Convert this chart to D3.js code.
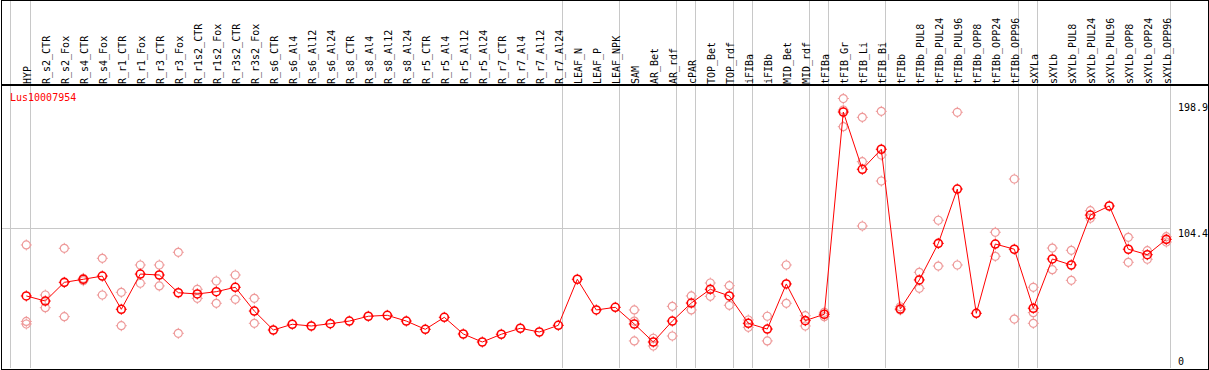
<!DOCTYPE html>
<html>
<head>
<meta charset="utf-8">
<script src="https://cdn.jsdelivr.net/npm/d3@7"></script>
</head>
<body style="margin:0">
<div id="chart"></div>
<script>
// sample names (columns)
const samples = ["HYP","R_s2_CTR","R_s2_Fox","R_s4_CTR","R_s4_Fox","R_r1_CTR","R_r1_Fox","R_r3_CTR","R_r3_Fox",
  "R_r1s2_CTR","R_r1s2_Fox","R_r3s2_CTR","R_r3s2_Fox","R_s6_CTR","R_s6_Al4","R_s6_Al12","R_s6_Al24",
  "R_s8_CTR","R_s8_Al4","R_s8_Al12","R_s8_Al24","R_r5_CTR","R_r5_Al4","R_r5_Al12","R_r5_Al24",
  "R_r7_CTR","R_r7_Al4","R_r7_Al12","R_r7_Al24","LEAF_N","LEAF_P","LEAF_NPK","SAM","AR_Bet","AR_rdf",
  "cPAR","TOP_Bet","TOP_rdf","iFIBa","iFIBb","MID_Bet","MID_rdf","tFIBa","tFIB_Gr","tFIB_Li","tFIB_Bi",
  "tFIBb","tFIBb_PUL8","tFIBb_PUL24","tFIBb_PUL96","tFIBb_OPP8","tFIBb_OPP24","tFIBb_OPP96",
  "sXYLa","sXYLb","sXYLb_PUL8","sXYLb_PUL24","sXYLb_PUL96","sXYLb_OPP8","sXYLb_OPP24","sXYLb_OPP96"];

// last sample of each group (a grey separator is drawn after it)
const groupEnds = ["HYP","R_r7_Al24","LEAF_NPK","AR_rdf","cPAR","TOP_rdf","iFIBa","MID_rdf","tFIBa",
  "tFIB_Bi","tFIBb_OPP96","sXYLa","sXYLb_OPP96"];

// mean expression per sample
const means = [53.6,49.8,63.8,66.1,68.5,43.6,70.0,69.3,56.0,55.1,56.8,60.1,42.3,28.1,32.4,31.1,32.8,
  34.8,38.4,39.1,34.8,28.6,37.6,25.1,19.1,24.9,29.4,26.6,31.6,66.1,43.1,45.1,32.6,19.1,34.8,
  48.3,58.6,53.6,33.1,28.8,62.6,35.1,39.9,191.4,148.5,163.5,
  43.8,65.6,93.0,133.7,40.6,92.5,88.6,44.4,81.3,76.8,114.2,121.0,88.6,84.5,96.0];

// replicate values per sample
const replicates = [[91.8,34.5,32.6],[54.3,44.8],[89.3,38.1],[66.8,65.0],[81.8,54.3],[56.3,31.3],
  [76.8,63.1],[76.8,61.1],[86.3,25.6],[58.6,51.8],[64.8,48.1],[69.3,51.1],[51.8,33.1],
  [],[],[],[],[],[],[],[],[],[],[],[],[],[],[],[],[],[],[],
  [43.1,34.8,19.9],[21.9,16.1],[45.8,23.6],[53.6,43.1],[63.3,53.3],[61.3,46.6],[35.6,30.1],
  [38.4,19.9],[76.8,48.1],[38.8,31.1],[41.4,38.1],[201.5,192.9,180.4],[187.4,154.2,106.0],
  [191.9,159.2,139.7],[45.5,43.1],[71.3,59.3],[110.3,76.0],[191.2,76.8],[],[101.3,83.3],
  [141.2,36.3],[60.1,41.1,33.1],[89.5,73.3],[87.8,65.3],[117.5,111.8],[],[97.5,78.8],
  [87.5,81.1],[98.0,94.0]];

const axisTicks = [0, 104.4, 198.9];
const geneName = "Lus10007954";

const width = 1209, height = 370;
const headerBottom = 85, plotBottom = 368;
const font = "DejaVu Sans Mono";

const svg = d3.select("#chart").append("svg")
  .attr("width", width).attr("height", height);

const x = d3.scaleBand().domain(samples).range([11.7, 11.7 + 19 * samples.length]);
const cx = d => x(d) + 14.6;
const y = d3.scaleLinear().domain([0, 198.9]).range([367.5, 102]);
const plotRight = x.range()[1];

// grey group separators
svg.append("g").selectAll("line").data(["__start"].concat(groupEnds)).join("line")
  .attr("x1", d => d === "__start" ? x.range()[0] - 1 : x(d) + x.bandwidth())
  .attr("x2", d => d === "__start" ? x.range()[0] - 1 : x(d) + x.bandwidth())
  .attr("y1", 0).attr("y2", plotBottom)
  .attr("stroke", "#c8c8c8").attr("shape-rendering", "crispEdges");

// gridline at middle tick
svg.append("line")
  .attr("x1", 1).attr("x2", plotRight)
  .attr("y1", y(104.4)).attr("y2", y(104.4))
  .attr("stroke", "#c8c8c8").attr("shape-rendering", "crispEdges");

// frame
svg.append("rect").attr("x", 1).attr("y", 0.5).attr("width", 1207).attr("height", 368.5)
  .attr("fill", "none").attr("stroke", "#000").attr("shape-rendering", "crispEdges");
svg.append("line").attr("x1", 1).attr("x2", 1208).attr("y1", headerBottom).attr("y2", headerBottom)
  .attr("stroke", "#000").attr("stroke-width", 1.5).attr("shape-rendering", "crispEdges");

// column labels
samples.forEach(s => {
  svg.append("text")
    .attr("transform", `translate(${Math.round(cx(s) + 4) + 0.5},84) rotate(-90)`)
    .style("font-family", font).style("font-size", "10px")
    .text(s);
});

// right axis labels
svg.append("g").selectAll("text").data(axisTicks).join("text")
  .attr("x", 1178)
  .attr("y", d => Math.min(y(d) + 8.5, 365))
  .style("font-family", font).style("font-size", "10px")
  .text(d => d);

svg.append("text").attr("x", 10).attr("y", 101).attr("fill", "#ff0000")
  .style("font-family", font).style("font-size", "10px").text(geneName);

// marker: circle with small ticks
function marker(g, color, sw) {
  g.append("circle").attr("r", 4).attr("fill", "none").attr("stroke", color).attr("stroke-width", sw);
  [[0,-4,0,-5.5],[0,4,0,5.5],[-4,0,-5.5,0],[4,0,5.5,0]].forEach(t => {
    g.append("line").attr("x1", t[0]).attr("y1", t[1]).attr("x2", t[2]).attr("y2", t[3])
      .attr("stroke", color).attr("stroke-width", 1);
  });
}

// replicates
const repData = [];
samples.forEach((s, i) => replicates[i].forEach(v => repData.push({s: s, v: v})));
svg.append("g").selectAll("g").data(repData).join("g")
  .attr("transform", d => `translate(${cx(d.s)},${y(d.v)})`)
  .each(function() { marker(d3.select(this), "#ee9a9a", 1.2); });

// mean line
const line = d3.line().x((d, i) => cx(samples[i])).y(d => y(d));
svg.append("path").datum(means).attr("d", line)
  .attr("fill", "none").attr("stroke", "#ff0000").attr("stroke-width", 1);

svg.append("g").selectAll("g").data(means).join("g")
  .attr("transform", (d, i) => `translate(${cx(samples[i])},${y(d)})`)
  .each(function() { marker(d3.select(this), "#ff0000", 1.6); });
</script>
</body>
</html>
